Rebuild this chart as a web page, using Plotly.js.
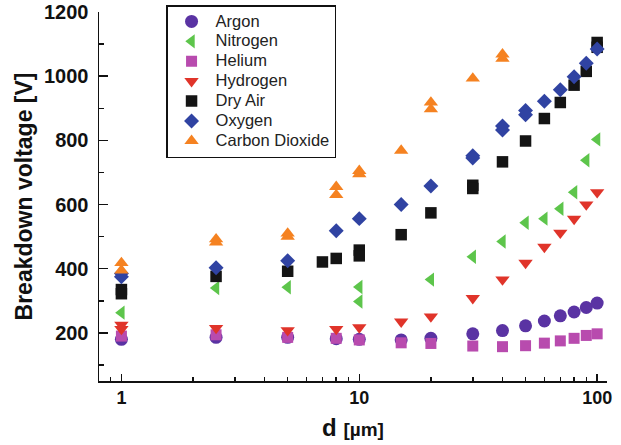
<!DOCTYPE html>
<html><head><meta charset="utf-8">
<script src="https://cdn.plot.ly/plotly-3.0.1.min.js"></script>
<style>html,body{margin:0;padding:0;background:#fff}#chart{width:621px;height:445px}</style>
</head><body><div id="chart"></div>
<script>
// gap distance d [µm] and breakdown voltage [V]
const xArgon = [1, 2.5, 5, 8, 10, 15, 20, 30, 40, 50, 60, 70, 80, 90, 100];
const yArgon = [180, 186, 186, 182, 180, 178, 183, 197, 207, 222, 237, 253, 265, 279, 293];

const xNitrogen = [1, 2.5, 5, 10, 10, 20, 30, 40, 50, 60, 70, 80, 90, 100];
const yNitrogen = [263, 340, 342, 343, 298, 366, 437, 485, 543, 556, 587, 638, 738, 803];

const xHelium = [1, 2.5, 5, 8, 10, 15, 20, 30, 40, 50, 60, 70, 80, 90, 100];
const yHelium = [190, 194, 186, 183, 178, 169, 167, 159, 157, 160, 168, 175, 183, 192, 197];

const xHydrogen = [1, 1, 2.5, 5, 8, 10, 15, 20, 30, 40, 50, 60, 70, 80, 90, 100];
const yHydrogen = [225, 212, 215, 208, 212, 217, 235, 251, 308, 366, 418, 468, 512, 555, 600, 638];

const xDryAir = [1, 1, 2.5, 5, 7, 8, 10, 10, 15, 20, 30, 30, 40, 50, 60, 70, 80, 90, 100, 100];
const yDryAir = [335, 322, 376, 392, 421, 432, 458, 440, 506, 574, 660, 650, 733, 798, 868, 918, 972, 1015, 1105, 1090];

const xOxygen = [1, 1, 2.5, 5, 8, 10, 15, 20, 30, 30, 40, 40, 50, 50, 60, 70, 80, 90, 100];
const yOxygen = [385, 375, 403, 425, 518, 556, 600, 658, 752, 745, 845, 832, 893, 880, 922, 958, 998, 1040, 1085];

const xCO2 = [1, 1, 2.5, 2.5, 5, 5, 8, 8, 10, 10, 15, 20, 20, 30, 40, 40];
const yCO2 = [418, 395, 492, 482, 510, 500, 655, 630, 705, 695, 768, 918, 897, 993, 1068, 1055];

const seriesNames = ['Argon', 'Nitrogen', 'Helium', 'Hydrogen', 'Dry Air', 'Oxygen', 'Carbon Dioxide'];
const xTickVals = [1, 10, 100];
const xTickText = ['1', '10', '100'];
const xMinorVals = [0.9, 2, 3, 4, 5, 6, 7, 8, 9, 20, 30, 40, 50, 60, 70, 80, 90];
const yTickVals = [200, 400, 600, 800, 1000, 1200];

const xs = [xArgon, xNitrogen, xHelium, xHydrogen, xDryAir, xOxygen, xCO2];
const ys = [yArgon, yNitrogen, yHelium, yHydrogen, yDryAir, yOxygen, yCO2];
const styles = [
  {symbol: 'circle', color: '#5a33a3', size: 13},
  {symbol: 'triangle-left', color: '#5dc54b', size: 12.5},
  {symbol: 'square', color: '#b84bae', size: 11},
  {symbol: 'triangle-down', color: '#e0342a', size: 12.5},
  {symbol: 'square', color: '#141414', size: 11.5},
  {symbol: 'diamond', color: '#3043a2', size: 11.5},
  {symbol: 'triangle-up', color: '#f58221', size: 12.5}
];

const traces = seriesNames.map((n, i) => ({
  type: 'scatter', mode: 'markers', name: '<span style="font-size:16.5px">' + n + '</span>',
  x: xs[i], y: ys[i],
  marker: {symbol: styles[i].symbol, color: styles[i].color, size: styles[i].size, line: {width: 0}}
}));

const FONT = 'Liberation Sans, Arial, Helvetica, sans-serif';
const layout = {
  width: 621, height: 445,
  margin: {l: 99, r: 14, t: 5, b: 64},
  paper_bgcolor: '#fff', plot_bgcolor: '#fff',
  font: {family: FONT, color: '#111'},
  showlegend: true,
  legend: {
    x: 0.132, y: 1, xanchor: 'left', yanchor: 'top',
    bordercolor: '#111', borderwidth: 1.5, bgcolor: '#fff',
    font: {family: FONT, size: 13, color: '#222'},
    itemwidth: 38
  },
  xaxis: {
    type: 'log', range: [Math.log10(0.805), Math.log10(110)],
    tickmode: 'array', tickvals: xTickVals, ticktext: xTickText,
    ticks: 'inside', ticklen: 7, tickwidth: 1.5, tickcolor: '#111',
    showline: true, linewidth: 1.5, linecolor: '#111', mirror: false,
    showgrid: false, zeroline: false,
    tickfont: {family: FONT, size: 18, weight: 'bold', color: '#111'},
    minor: {tickmode: 'array', tickvals: xMinorVals, ticks: 'inside', ticklen: 4, tickwidth: 1.5, tickcolor: '#111', showgrid: false},
    title: {text: '<b>d</b> <span style="font-size:19px"><b>[µm]</b></span>', font: {family: FONT, size: 24, color: '#111'}, standoff: 12},
    automargin: false
  },
  yaxis: {
    range: [50, 1200], domain: [0, 369 / 376],
    tickmode: 'array', tickvals: yTickVals,
    ticks: 'inside', ticklen: 9, tickwidth: 1.5, tickcolor: '#111',
    showline: true, linewidth: 1.5, linecolor: '#111', mirror: false,
    showgrid: false, zeroline: false,
    tickfont: {family: FONT, size: 20, weight: 'bold', color: '#111'},
    ticklabelstandoff: 5,
    minor: {dtick: 100, tick0: 0, ticks: 'inside', ticklen: 5, tickwidth: 1.5, tickcolor: '#111', showgrid: false},
    title: {text: 'Breakdown voltage [V]', font: {family: FONT, size: 23, weight: 'bold', color: '#111'}, standoff: 5},
    automargin: false
  }
};

Plotly.newPlot('chart', traces, layout, {displayModeBar: false, staticPlot: true});
</script>
</body></html>
